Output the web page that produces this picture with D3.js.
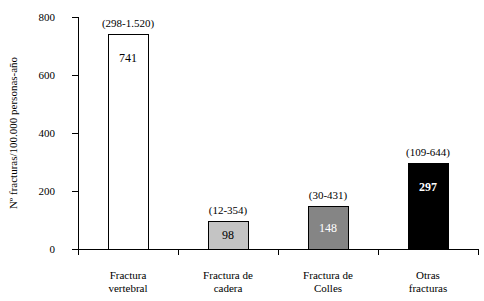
<!DOCTYPE html>
<html>
<head>
<meta charset="utf-8">
<script src="https://cdn.jsdelivr.net/npm/d3@7"></script>
<style>
  body { margin: 0; background: #fff; }
  svg { display: block; font-family: "Liberation Serif", "DejaVu Serif", serif; }
</style>
</head>
<body>
<div id="chart"></div>
<script>
// ---- Data ----
const categories = [["Fractura", "vertebral"], ["Fractura de", "cadera"], ["Fractura de", "Colles"], ["Otras", "fracturas"]];
const values = [741, 98, 148, 297];
const ranges = ["(298-1.520)", "(12-354)", "(30-431)", "(109-644)"];
const fills = ["#ffffff", "#c4c4c4", "#858585", "#000000"];
const labelColors = ["#000", "#000", "#fff", "#fff"];
const yTicks = [0, 200, 400, 600, 800];

const W = 484, H = 301;
const x0 = 78, x1 = 478, yTop = 17, yBase = 249;

const svg = d3.select("#chart").append("svg")
  .attr("width", W).attr("height", H);

const x = d3.scaleBand()
  .domain(d3.range(values.length))
  .range([x0, x1])
  .paddingInner(0.6)
  .paddingOuter(0.3);

const y = d3.scaleLinear().domain([0, 800]).range([yBase, yTop]);

// ---- Axes ----
svg.append("line")
  .attr("x1", x0 + 0.5).attr("x2", x0 + 0.5)
  .attr("y1", y(800)).attr("y2", yBase + 6)
  .attr("stroke", "#000");

svg.append("line")
  .attr("x1", x0 - 6).attr("x2", x1 + 0.5)
  .attr("y1", yBase + 0.5).attr("y2", yBase + 0.5)
  .attr("stroke", "#000");

svg.selectAll(".ytick")
  .data(yTicks)
  .join("line")
  .attr("x1", x0 - 6).attr("x2", x0)
  .attr("y1", d => Math.round(y(d)) + 0.5).attr("y2", d => Math.round(y(d)) + 0.5)
  .attr("stroke", "#000");

svg.selectAll(".ylab")
  .data(yTicks)
  .join("text")
  .attr("x", 55).attr("y", d => y(d))
  .attr("dy", "0.35em")
  .attr("text-anchor", "end")
  .style("font-size", "11px")
  .text(d => d);

// x ticks at band boundaries
const bounds = d3.range(values.length + 1).map(i => x0 + i * x.step());
svg.selectAll(".xtick")
  .data(bounds)
  .join("line")
  .attr("x1", d => Math.round(d) + 0.5).attr("x2", d => Math.round(d) + 0.5)
  .attr("y1", yBase).attr("y2", yBase + 6)
  .attr("stroke", "#000");

// ---- Bars ----
svg.selectAll(".bar")
  .data(values)
  .join("rect")
  .attr("x", (d, i) => Math.round(x(i)) + 0.5)
  .attr("y", d => Math.round(y(d)) + 0.5)
  .attr("width", x.bandwidth())
  .attr("height", d => yBase - Math.round(y(d)))
  .attr("fill", (d, i) => fills[i])
  .attr("stroke", "#000");

// value labels
svg.selectAll(".val")
  .data(values)
  .join("text")
  .attr("x", (d, i) => x(i) + x.bandwidth() / 2)
  .attr("y", d => Math.min((y(d) + yBase) / 2, y(d) + 24))
  .attr("dy", "0.35em")
  .attr("text-anchor", "middle")
  .style("font-size", "12px")
  .style("font-weight", (d, i) => i === 3 ? "bold" : "normal")
  .attr("fill", (d, i) => labelColors[i])
  .text(d => d);

// range labels
svg.selectAll(".rng")
  .data(values)
  .join("text")
  .attr("x", (d, i) => x(i) + x.bandwidth() / 2)
  .attr("y", d => y(d) - 7)
  .attr("text-anchor", "middle")
  .style("font-size", "11px")
  .text((d, i) => ranges[i]);

// category labels
const cat = svg.selectAll(".cat")
  .data(categories)
  .join("text")
  .attr("text-anchor", "middle")
  .style("font-size", "11px");
cat.selectAll("tspan")
  .data((d, i) => d.map(s => ({ s, i })))
  .join("tspan")
  .attr("x", d => x(d.i) + x.bandwidth() / 2)
  .attr("y", (d, j) => 279 + j * 13)
  .text(d => d.s);

// y-axis title
svg.append("text")
  .attr("transform", `translate(17,${(yTop + yBase) / 2}) rotate(-90)`)
  .attr("text-anchor", "middle")
  .style("font-size", "11px")
  .text("Nº fracturas/100.000 personas-año");
</script>
</body>
</html>
